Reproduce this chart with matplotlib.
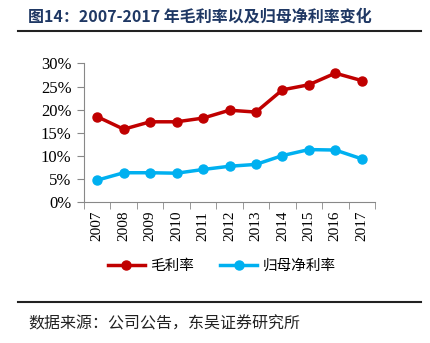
import numpy as np
import matplotlib.pyplot as plt
from matplotlib.lines import Line2D

plt.rcParams['font.family'] = ['Liberation Serif', 'Noto Sans CJK SC']

years = ['2007', '2008', '2009', '2010', '2011', '2012', '2013', '2014', '2015', '2016', '2017']
gross_margin = [18.5, 15.8, 17.4, 17.4, 18.2, 19.9, 19.5, 24.3, 25.4, 27.9, 26.3]
net_margin = [4.8, 6.4, 6.4, 6.3, 7.1, 7.8, 8.2, 10.1, 11.4, 11.3, 9.4]

red = '#C00000'
blue = '#00B0F0'
navy = '#1F3864'

fig = plt.figure(figsize=(4.31, 3.43), dpi=100)
ax = fig.add_axes([0.195, 0.41, 0.675, 0.405])

x = np.arange(len(years))
ax.plot(x, gross_margin, color=red, lw=2.5, marker='o', ms=6.5, label='毛利率')
ax.plot(x, net_margin, color=blue, lw=2.5, marker='o', ms=6.5, label='归母净利率')

ax.set_xlim(-0.5, len(years) - 0.5)
ax.set_ylim(0, 30)
ax.set_yticks(np.arange(0, 31, 5))
ax.set_yticklabels([f'{v}%' for v in range(0, 31, 5)], fontsize=12)
ax.set_xticks(x)
ax.set_xticklabels(years, rotation=90, fontsize=11)
ax.set_xticks(np.arange(-0.5, len(years), 1), minor=True)
ax.tick_params(axis='x', which='major', length=0, pad=6)
ax.tick_params(axis='x', which='minor', length=5, color='#888888', direction='out')
ax.tick_params(axis='y', length=5, color='#888888', direction='out', pad=4)
for s in ['top', 'right']:
    ax.spines[s].set_visible(False)
for s in ['left', 'bottom']:
    ax.spines[s].set_color('#888888')

handles = [Line2D([], [], color=red, lw=2.5, marker='o', ms=6.5),
           Line2D([], [], color=blue, lw=2.5, marker='o', ms=6.5)]
fig.legend(handles, ['毛利率', '归母净利率'], loc='center', bbox_to_anchor=(0.515, 0.225),
           ncol=2, frameon=False, prop={'family': 'Noto Sans CJK SC', 'size': 10.5},
           handlelength=2.5, columnspacing=1.8, handletextpad=0.4)

fig.text(0.065, 0.952, '图14：2007-2017 年毛利率以及归母净利率变化', fontsize=11.5,
         fontweight='bold', color=navy, va='center', ha='left',
         family=['Noto Sans CJK SC', 'DejaVu Sans'])
fig.add_artist(Line2D([0.042, 0.977], [0.91, 0.91], color='#222222', lw=1.5))
fig.add_artist(Line2D([0.042, 0.977], [0.12, 0.12], color='#222222', lw=1.5))
fig.text(0.065, 0.055, '数据来源：公司公告，东吴证券研究所', fontsize=11.5,
         color='#222222', va='center', ha='left', family=['Noto Sans CJK SC'])

fig.savefig('out.png', dpi=100)
